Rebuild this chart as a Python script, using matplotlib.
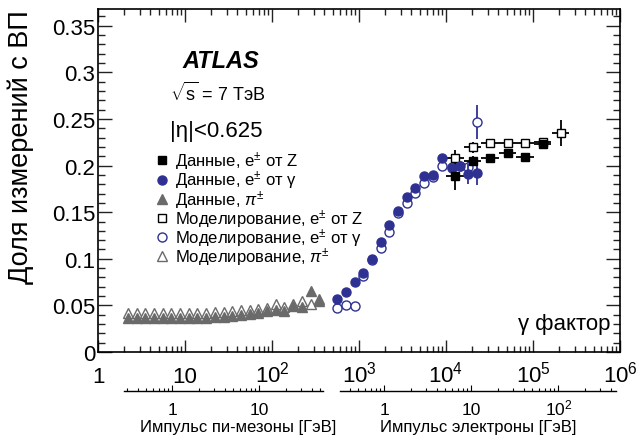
import numpy as np
import matplotlib.pyplot as plt
import matplotlib.transforms as mtransforms
from matplotlib.ticker import LogLocator, NullFormatter, MultipleLocator

plt.rcParams['font.family'] = ['Liberation Sans', 'DejaVu Sans']
plt.rcParams['mathtext.fontset'] = 'custom'
plt.rcParams['mathtext.rm'] = 'Liberation Sans'
plt.rcParams['mathtext.it'] = 'Liberation Sans:italic'
plt.rcParams['mathtext.bf'] = 'Liberation Sans:bold'

# --- data (x = gamma factor, y = fraction of TR hits) ---
pi_gamma = [2.21, 2.78, 3.50, 4.41, 5.55, 6.98, 8.79, 11.1, 13.9, 17.5, 22.1, 27.8,
            35.0, 44.1, 55.5, 69.8, 87.9, 111, 139, 175, 221, 278, 350]
pi_data = [0.037, 0.037, 0.037, 0.037, 0.037, 0.037, 0.037, 0.037, 0.037, 0.037, 0.038, 0.038,
           0.039, 0.040, 0.041, 0.042, 0.044, 0.045, 0.044, 0.049, 0.048, 0.065, 0.055]
pi_data_err = [0.001] * 20 + [0.002, 0.004, 0.006]
pi_mc = [0.042, 0.042, 0.042, 0.042, 0.042, 0.042, 0.042, 0.042, 0.042, 0.042, 0.043, 0.043,
         0.044, 0.045, 0.045, 0.046, 0.047, 0.052, 0.048, 0.052, 0.055, 0.052, 0.057]

eg_gamma = [563, 709, 893, 1120, 1400, 1775, 2230, 2830, 3590, 4460, 5630, 7150,
            8930, 11640, 14500, 18000, 22500]
eg_data = [0.0569, 0.064, 0.0754, 0.0848, 0.0998, 0.1177, 0.1363, 0.1516, 0.166, 0.1757,
           0.1885, 0.190, 0.2078, 0.197, 0.1996, 0.191, 0.192]
eg_data_err = [0.001] * 13 + [0.003, 0.004, 0.011, 0.013]
eg_mc = [0.0469, 0.0504, 0.0497, 0.0812, 0.0987, 0.1113, 0.1284, 0.149, 0.160, 0.1706,
         0.181, 0.188, 0.200, 0.198, 0.200, 0.199, 0.247]
eg_mc_err = [0.001] * 13 + [0.003, 0.004, 0.006, 0.018]

ez_gamma = [12700, 20300, 32000, 51200, 81000, 129000]
ez_data = [0.189, 0.205, 0.208, 0.214, 0.2095, 0.223]
ez_data_err = [0.015, 0.005, 0.003, 0.003, 0.003, 0.003]
ez_gamma_mc = [12700, 20300, 32000, 51200, 81000, 129000, 208000]
ez_mc = [0.208, 0.2196, 0.2243, 0.2243, 0.2243, 0.225, 0.2347]
ez_mc_err = [0.009, 0.006, 0.003, 0.003, 0.003, 0.004, 0.014]

main_ticks = [1, 10, 1e2, 1e3, 1e4, 1e5, 1e6]
main_ticklabels = ['1', '10', '10$^{2}$', '10$^{3}$', '10$^{4}$', '10$^{5}$', '10$^{6}$']
y_ticks = [0, 0.05, 0.1, 0.15, 0.2, 0.25, 0.3, 0.35]
y_ticklabels = ['0', '0.05', '0.1', '0.15', '0.2', '0.25', '0.3', '0.35']
pi_ticks = [1, 10]
pi_ticklabels = ['1', '10']
e_ticks = [1, 10, 100]
e_ticklabels = ['1', '10', '10$^{2}$']

m_pi = 0.13957  # GeV
m_e = 0.000511  # GeV

blue = '#2e3192'
grey = '#6a6a6a'
half_bin = 10 ** 0.1  # horizontal bin half width of Z points (0.1 decade)

W, H = 636, 439
fig = plt.figure(figsize=(W / 100, H / 100), dpi=100)
# main axes, in pixels: x 98..620, y 10..353
ax = fig.add_axes([98 / W, 1 - 353 / H, 522 / W, 343 / H])


def xerr_of(g):
    g = np.array(g, dtype=float)
    return [g - g / half_bin, g * half_bin - g]


# simulation first, data drawn on top
ax.plot(pi_gamma, pi_mc, ls='none', marker='^', ms=7, mfc='white', mec=grey, mew=1.0, zorder=3)
ax.errorbar(pi_gamma, pi_data, yerr=pi_data_err, ls='none', marker='^', ms=7, color=grey,
            elinewidth=1.0, capsize=0, zorder=4)

ax.errorbar(eg_gamma, eg_mc, yerr=eg_mc_err, ls='none', marker='o', ms=6.5, mfc='white',
            mec=blue, mew=1.0, color=blue, elinewidth=1.3, capsize=0, zorder=3)
ax.errorbar(eg_gamma, eg_data, yerr=eg_data_err, ls='none', marker='o', ms=6.5, color=blue,
            elinewidth=1.3, capsize=0, zorder=4)

ax.errorbar(ez_gamma_mc, ez_mc, yerr=ez_mc_err, xerr=xerr_of(ez_gamma_mc), ls='none', marker='s',
            ms=6, mfc='white', mec='black', mew=1.0, color='black', elinewidth=1.3, capsize=0, zorder=3)
ax.errorbar(ez_gamma, ez_data, yerr=ez_data_err, xerr=xerr_of(ez_gamma), ls='none', marker='s',
            ms=6, color='black', elinewidth=1.3, capsize=0, zorder=4)

ax.set_xscale('log')
ax.set_xlim(1, 1e6)
ax.set_ylim(0, 0.368)
ax.set_xticks(main_ticks)
ax.set_xticklabels(main_ticklabels)
ax.xaxis.set_minor_locator(LogLocator(base=10, subs=np.arange(2, 10)))
ax.xaxis.set_minor_formatter(NullFormatter())
ax.yaxis.set_minor_locator(MultipleLocator(0.01))
ax.set_yticks(y_ticks)
ax.set_yticklabels(y_ticklabels)
ax.tick_params(which='both', direction='in', top=True, right=True, width=1.0, color='#222222')
ax.tick_params(axis='x', which='major', length=9, labelsize=16, pad=21.5)
ax.tick_params(axis='x', which='minor', length=4.5)
ax.tick_params(axis='y', which='major', length=10, labelsize=16, pad=2)
ax.tick_params(axis='y', which='minor', length=5)
for lab in ax.get_xticklabels():
    lab.set_verticalalignment('baseline')
for s in ax.spines.values():
    s.set_linewidth(1.2)

fig.text(21 / W, 1 - 10 / H, 'Доля измерений с ВП', rotation=90, ha='center', va='top', fontsize=19.5)

ax.text((221 - 98) / 522, 1 - 51 / 343, 'ATLAS', transform=ax.transAxes, fontsize=17,
        fontweight='bold', fontstyle='italic', ha='center', va='center')
ax.text(72 / 522, 1 - 83 / 343, r'$\sqrt{\mathrm{s}}$ = 7 ТэВ', transform=ax.transAxes, fontsize=13,
        ha='left', va='center')
ax.text(72 / 522, 1 - 122 / 343, '|η|<0.625', transform=ax.transAxes, fontsize=16,
        ha='left', va='center')
ax.text((610 - 98) / 522, 1 - 320 / 343, 'γ фактор', transform=ax.transAxes, fontsize=16,
        ha='right', va='baseline')

# legend
h = []
h.append(ax.plot([], [], ls='none', marker='s', ms=6, color='black')[0])
h.append(ax.plot([], [], ls='none', marker='o', ms=6.5, color=blue)[0])
h.append(ax.plot([], [], ls='none', marker='^', ms=7, color=grey)[0])
h.append(ax.plot([], [], ls='none', marker='s', ms=6, mfc='white', mec='black', mew=1.0)[0])
h.append(ax.plot([], [], ls='none', marker='o', ms=6.5, mfc='white', mec=blue, mew=1.0)[0])
h.append(ax.plot([], [], ls='none', marker='^', ms=7, mfc='white', mec=grey, mew=1.0)[0])
labels = ['Данные, e$^{\\pm}$ от Z', 'Данные, e$^{\\pm}$ от γ', 'Данные, $\\pi^{\\pm}$',
          'Моделирование, e$^{\\pm}$ от Z', 'Моделирование, e$^{\\pm}$ от γ',
          'Моделирование, $\\pi^{\\pm}$']
ax.legend(h, labels, loc='upper left', bbox_to_anchor=(57 / 522, 1 - 141 / 343), frameon=False,
          fontsize=12, handlelength=0.8, handletextpad=0.38, labelspacing=-0.19, borderpad=0,
          borderaxespad=0)


# secondary momentum axes below the plot
def momentum_axis(x0, x1, mass, ticks, ticklabels, title, title_x):
    a = fig.add_axes([x0 / W, 1 - 392 / H, (x1 - x0) / W, 0.01])
    a.set_xscale('log')
    g0 = 10 ** (6 * (x0 - 98) / 522)
    g1 = 10 ** (6 * (x1 - 98) / 522)
    a.set_xlim(g0 * mass, g1 * mass)
    a.set_xticks(ticks)
    a.set_xticklabels(ticklabels)
    a.xaxis.set_minor_locator(LogLocator(base=10, subs=np.arange(2, 10)))
    a.xaxis.set_minor_formatter(NullFormatter())
    a.set_yticks([])
    for side in ['top', 'left', 'right']:
        a.spines[side].set_visible(False)
    a.spines['bottom'].set_linewidth(1.0)
    a.patch.set_visible(False)
    a.tick_params(axis='x', which='both', direction='in', labelsize=12.5, pad=16.5, width=0.8)
    a.tick_params(axis='x', which='major', length=4)
    a.tick_params(axis='x', which='minor', length=2.2)
    for lab in a.get_xticklabels():
        lab.set_verticalalignment('baseline')
    a.set_xlabel(title, fontsize=12, va='baseline')
    a.xaxis.set_label_coords(title_x, 1 - 432 / H,
                             transform=mtransforms.blended_transform_factory(a.transAxes, fig.transFigure))
    return a


momentum_axis(124, 323, m_pi, pi_ticks, pi_ticklabels, 'Импульс пи-мезоны [ГэВ]', (238 - 124) / (323 - 124))
momentum_axis(340, 616, m_e, e_ticks, e_ticklabels, 'Импульс электроны [ГэВ]', 0.5)

fig.savefig('out.png', dpi=100)
